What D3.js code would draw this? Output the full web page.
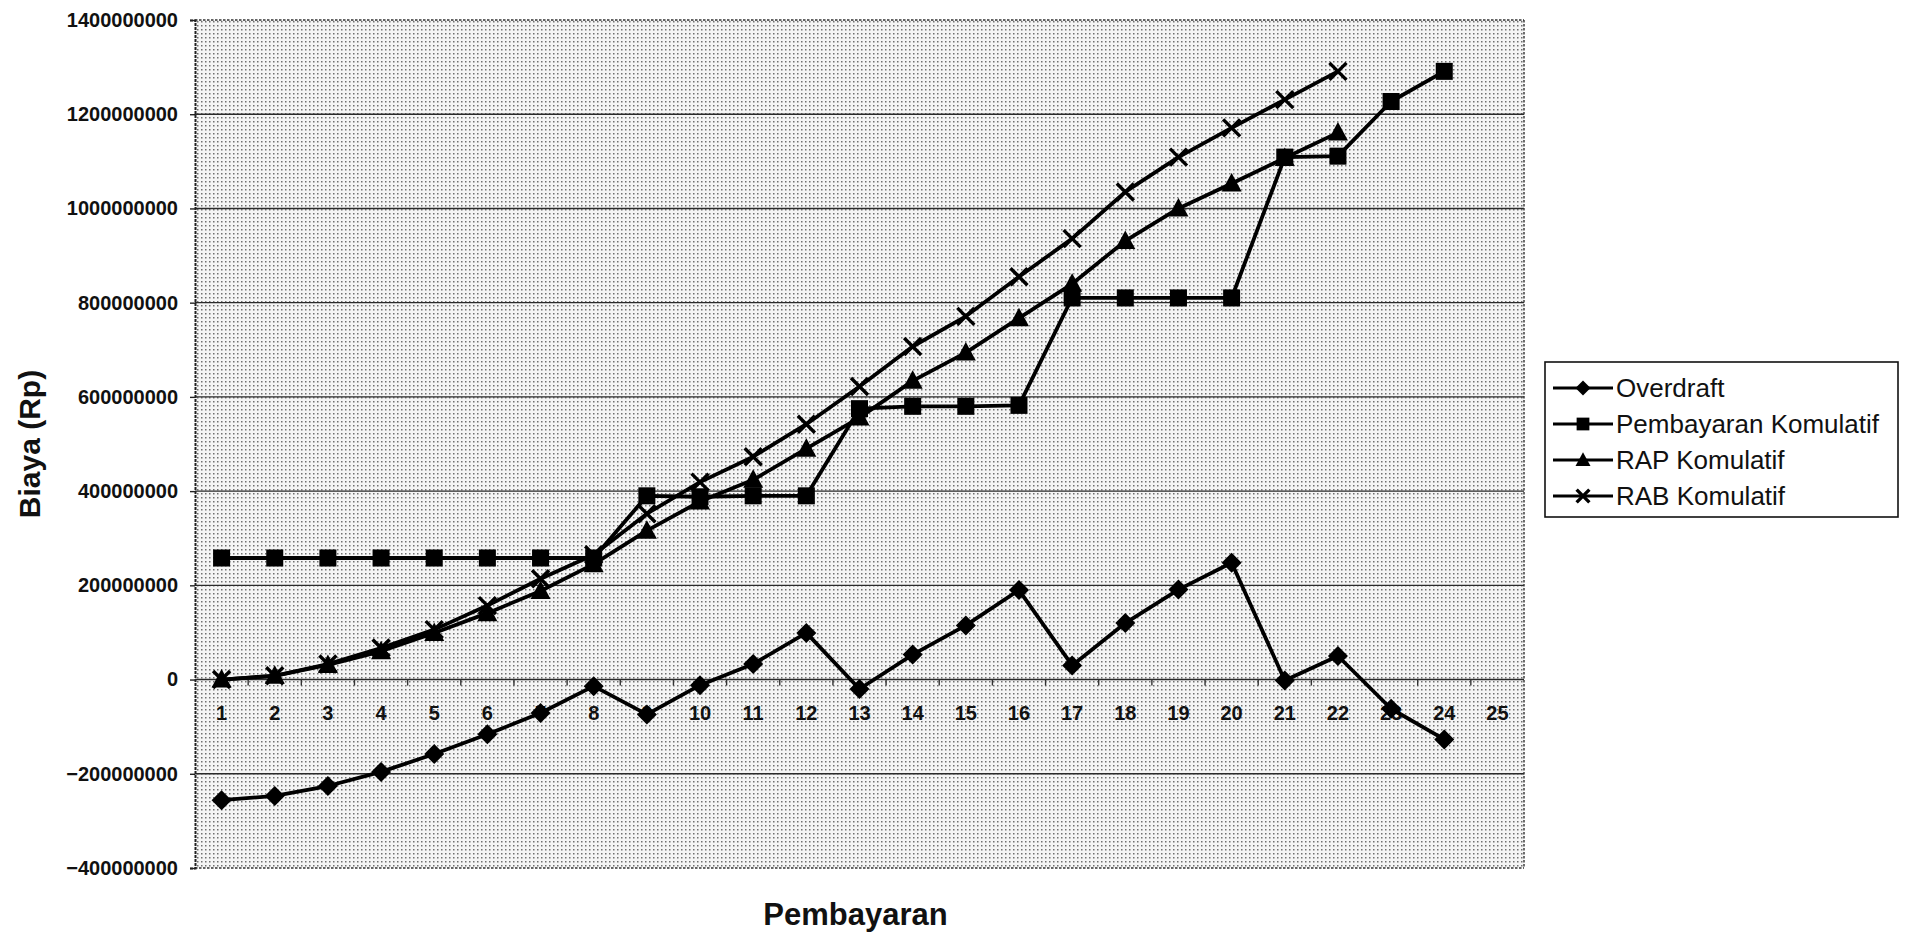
<!DOCTYPE html>
<html>
<head>
<meta charset="utf-8">
<script src="https://cdn.jsdelivr.net/npm/d3@7/dist/d3.min.js"></script>
<style>
  html, body { margin: 0; padding: 0; background: #fff; }
  svg { display: block; }
  text { font-family: "Liberation Sans", Arial, sans-serif; fill: #111; }
</style>
</head>
<body>
<svg id="chart" width="1908" height="937"></svg>
<script>
// Periods (pembayaran ke-n)
const categories = d3.range(1, 26).map(String);

// Cumulative cost series, in millions of Rupiah (scaled to Rp below)
const overdraft  = [-256, -247, -226, -196, -158, -116, -71, -14, -74, -12, 33, 99, -20, 53, 115, 190, 30, 120, 191, 248, -2, 50, -62, -127];
const pembayaran = [258, 258, 258, 258, 258, 258, 258, 258, 390, 388, 390, 390, 575, 580, 580, 582, 810, 810, 810, 810, 1109, 1111, 1227, 1291];
const rapKomulatif = [0, 8, 31, 60, 99, 141, 188, 245, 316, 378, 424, 490, 556, 634, 694, 767, 840, 931, 1000, 1053, 1107, 1161];
const rabKomulatif = [0, 8, 33, 67, 106, 157, 214, 265, 352, 419, 473, 542, 622, 707, 771, 855, 936, 1035, 1109, 1171, 1231, 1291];

const yTicks = [-400000000, -200000000, 0, 200000000, 400000000, 600000000, 800000000, 1000000000, 1200000000, 1400000000];
const seriesNames = ["Overdraft", "Pembayaran Komulatif", "RAP Komulatif", "RAB Komulatif"];

const M = 1e6;
const series = [
  { name: seriesNames[0], values: overdraft,    marker: "diamond" },
  { name: seriesNames[1], values: pembayaran,   marker: "square" },
  { name: seriesNames[2], values: rapKomulatif, marker: "triangle" },
  { name: seriesNames[3], values: rabKomulatif, marker: "cross" }
];

const plot = { left: 195, right: 1524, top: 20, bottom: 868 };

const svg = d3.select("#chart");

const x = d3.scalePoint()
  .domain(categories)
  .range([plot.left, plot.right])
  .padding(0.5);
const step = x.step();

const y = d3.scaleLinear()
  .domain([yTicks[0], yTicks[yTicks.length - 1]])
  .range([plot.bottom, plot.top]);

// Halftone-style grey fill of the plot area
const defs = svg.append("defs");
const pat = defs.append("pattern")
  .attr("id", "halftone")
  .attr("patternUnits", "userSpaceOnUse")
  .attr("width", 4).attr("height", 4);
pat.append("rect").attr("width", 4).attr("height", 4).attr("fill", "#f5f5f5");
pat.append("rect").attr("x", 1).attr("y", 1).attr("width", 1.5).attr("height", 1.5).attr("fill", "#707070");

svg.append("rect")
  .attr("x", plot.left).attr("y", plot.top)
  .attr("width", plot.right - plot.left).attr("height", plot.bottom - plot.top)
  .attr("fill", "url(#halftone)");

// Horizontal gridlines
svg.append("g")
  .selectAll("line")
  .data(yTicks.filter(v => v !== yTicks[0] && v !== yTicks[yTicks.length - 1] && v !== 0))
  .join("line")
  .attr("x1", plot.left).attr("x2", plot.right)
  .attr("y1", d => y(d)).attr("y2", d => y(d))
  .attr("stroke", "#2a2a2a").attr("stroke-width", 1.4);

// Plot border: dotted top, right and bottom edges
const border = svg.append("g").attr("fill", "none").attr("stroke", "#333").attr("stroke-width", 1.4).attr("stroke-dasharray", "2.5,1.5");
border.append("line").attr("x1", plot.left).attr("x2", plot.right).attr("y1", y(yTicks[yTicks.length - 1])).attr("y2", y(yTicks[yTicks.length - 1]));
border.append("line").attr("x1", plot.left).attr("x2", plot.right).attr("y1", y(yTicks[0])).attr("y2", y(yTicks[0]));
border.append("line").attr("x1", plot.right).attr("x2", plot.right).attr("y1", plot.top).attr("y2", plot.bottom);

// Y axis
const yAxis = d3.axisLeft(y)
  .tickValues(yTicks)
  .tickFormat(d3.format("d"))
  .tickSize(5)
  .tickPadding(12);
const gy = svg.append("g").attr("transform", `translate(${plot.left},0)`).call(yAxis);
gy.select(".domain").attr("stroke", "#222").attr("stroke-width", 2).attr("stroke-dasharray", "3,1");
gy.selectAll(".tick line").attr("stroke", "#222").attr("stroke-width", 1.4);
gy.selectAll(".tick text")
  .attr("font-size", 20).attr("font-weight", "bold")
  .attr("font-family", "'Liberation Sans', Arial, sans-serif")
  .attr("fill", "#111");

// X axis on the zero line, ticks between categories
const gx = svg.append("g").attr("transform", `translate(0,${y(0)})`);
gx.append("line")
  .attr("x1", plot.left).attr("x2", plot.right)
  .attr("stroke", "#2a2a2a").attr("stroke-width", 1.6);
gx.selectAll("line.tick")
  .data(categories.slice(1))
  .join("line")
  .attr("class", "tick")
  .attr("x1", d => x(d) - step / 2).attr("x2", d => x(d) - step / 2)
  .attr("y1", 0).attr("y2", 6)
  .attr("stroke", "#333").attr("stroke-width", 1.4);
gx.selectAll("text")
  .data(categories)
  .join("text")
  .attr("x", d => x(d))
  .attr("y", 40)
  .attr("text-anchor", "middle")
  .attr("font-size", 20).attr("font-weight", "bold")
  .text(d => d);

// Axis titles
svg.append("text")
  .attr("transform", `translate(40,${(plot.top + plot.bottom) / 2}) rotate(-90)`)
  .attr("text-anchor", "middle")
  .attr("font-size", 30).attr("font-weight", "bold")
  .text("Biaya (Rp)");
svg.append("text")
  .attr("x", (plot.left + plot.right) / 2 - 4)
  .attr("y", 925)
  .attr("text-anchor", "middle")
  .attr("font-size", 31).attr("font-weight", "bold")
  .text("Pembayaran");

// Marker shapes
function drawMarker(g, type, s) {
  if (type === "diamond") {
    g.append("path").attr("d", `M0,${-s}L${s},0L0,${s}L${-s},0Z`).attr("fill", "#000");
  } else if (type === "square") {
    const h = s * 0.85;
    g.append("rect").attr("x", -h).attr("y", -h).attr("width", 2 * h).attr("height", 2 * h).attr("fill", "#000");
  } else if (type === "triangle") {
    g.append("path").attr("d", `M0,${-s * 1.05}L${s},${s * 0.8}L${-s},${s * 0.8}Z`).attr("fill", "#000");
  } else if (type === "cross") {
    const c = s * 0.85;
    g.append("path").attr("d", `M${-c},${-c}L${c},${c}M${-c},${c}L${c},${-c}`)
      .attr("stroke", "#000").attr("stroke-width", 3.4).attr("fill", "none");
  }
}

const line = d3.line()
  .x((d, i) => x(categories[i]))
  .y(d => y(d * M));

const gSeries = svg.append("g");
series.forEach(s => {
  const g = gSeries.append("g");
  g.append("path")
    .datum(s.values)
    .attr("d", line)
    .attr("fill", "none")
    .attr("stroke", "#000")
    .attr("stroke-width", 3.8)
    .attr("stroke-linejoin", "round");
  s.values.forEach((v, i) => {
    const mg = g.append("g").attr("transform", `translate(${x(categories[i])},${y(v * M)})`);
    drawMarker(mg, s.marker, 10);
  });
});

// Legend
const legend = svg.append("g");
legend.append("rect")
  .attr("x", 1545).attr("y", 362).attr("width", 353).attr("height", 155)
  .attr("fill", "#fff").attr("stroke", "#111").attr("stroke-width", 1.6);
series.forEach((s, i) => {
  const cy = 388 + i * 36;
  const item = legend.append("g");
  item.append("line")
    .attr("x1", 1553).attr("x2", 1613).attr("y1", cy).attr("y2", cy)
    .attr("stroke", "#000").attr("stroke-width", 3);
  drawMarker(item.append("g").attr("transform", `translate(1583,${cy})`), s.marker, 7.5);
  item.append("text")
    .attr("x", 1616).attr("y", cy)
    .attr("dy", "0.35em")
    .attr("font-size", 26)
    .text(s.name);
});
</script>
</body>
</html>
